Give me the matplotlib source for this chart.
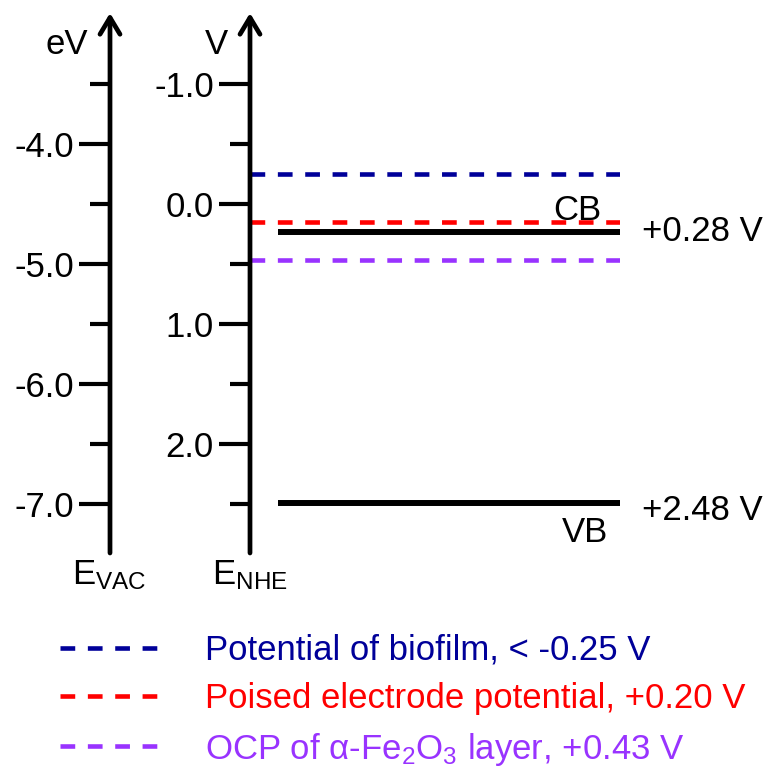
import matplotlib
matplotlib.use("Agg")
import matplotlib.pyplot as plt

plt.rcParams['font.family'] = ['Liberation Sans', 'DejaVu Sans']
plt.rcParams['mathtext.default'] = 'regular'
plt.rcParams['lines.scale_dashes'] = False

# ---- data (V vs NHE) ----
nhe_major = [-1.0, 0.0, 1.0, 2.0]
nhe_minor = [-0.5, 0.5, 1.5, 2.5]
nhe_labels = ["-1.0", "0.0", "1.0", "2.0"]
vac_major = [-4.0, -5.0, -6.0, -7.0]
vac_minor = [-3.5, -4.5, -5.5, -6.5]
vac_labels = ["-4.0", "-5.0", "-6.0", "-7.0"]
vac_offset = -4.5  # E_vac = offset - E_NHE

dash_names = ["Potential of biofilm, < -0.25 V",
              "Poised electrode potential, +0.20 V",
              "OCP of α-Fe$_2$O$_3$ layer, +0.43 V"]
dash_levels = [-0.25, 0.15, 0.47]
dash_colors = ["#000099", "#FF0000", "#9933FF"]

band_names = ["CB", "VB"]
band_levels = [0.23, 2.49]
band_values = ["+0.28 V", "+2.48 V"]

W, H = 781, 767
fig = plt.figure(figsize=(W / 100, H / 100), dpi=100)

y_top_px, y_bot_px = 13, 553
v_top = (y_top_px - 204) / 120.0
v_bot = (y_bot_px - 204) / 120.0

def fx(px):
    return px / W

ax_bottom = 1 - y_bot_px / H
ax_height = (y_bot_px - y_top_px) / H

ax = fig.add_axes([fx(250), ax_bottom, fx(620 - 250), ax_height])
ax2 = fig.add_axes([fx(110), ax_bottom, fx(10), ax_height])

FS = 25
LW_AX = 3.4

for a in (ax, ax2):
    for s in a.spines.values():
        s.set_visible(False)
    a.patch.set_visible(False)
    a.set_xticks([])
    a.tick_params(axis='y', which='major', length=22, width=3, pad=4,
                  labelsize=FS, direction='out')
    a.tick_params(axis='y', which='minor', length=14.4, width=3, direction='out')
    a.set_xlim(0, 1)
    a.annotate('', xy=(0, 1), xytext=(0, 0), xycoords='axes fraction',
               arrowprops=dict(arrowstyle='->, head_length=0.6, head_width=0.36',
                               lw=LW_AX, color='black', shrinkA=0, shrinkB=0,
                               mutation_scale=20))

ax.set_ylim(v_bot, v_top)
ax.set_yticks(nhe_major)
ax.set_yticklabels(nhe_labels)
ax.set_yticks(nhe_minor, minor=True)

ax2.set_ylim(vac_offset - v_bot, vac_offset - v_top)
ax2.set_yticks(vac_major)
ax2.set_yticklabels(vac_labels)
ax2.set_yticks(vac_minor, minor=True)

# dashed potential lines
handles = []
for lev, col, name in zip(dash_levels, dash_colors, dash_names):
    ln, = ax.plot([0, 1], [lev, lev], color=col, lw=3.3, linestyle=(0, (10.6, 9.1)),
                  solid_capstyle='butt', dash_capstyle='butt', label=name)
    handles.append(ln)

# band edges
x0 = (278 - 250) / (620 - 250)
for lev in band_levels:
    ax.plot([x0, 1], [lev, lev], color='black', lw=4.3, solid_capstyle='butt')

ax.text(0.951, band_levels[0] - 0.035, band_names[0], fontsize=FS, ha='right', va='bottom')
ax.text(0.968, band_levels[1] + 0.11, band_names[1], fontsize=FS, ha='right', va='top')
ax.text(1.06, band_levels[0], band_values[0], fontsize=FS, ha='left', va='center')
ax.text(1.06, band_levels[1] + 0.06, band_values[1], fontsize=FS, ha='left', va='center')

# axis labels
fig.text(fx(88), 1 - 44 / H, "eV", fontsize=FS, ha='right', va='center')
fig.text(fx(228), 1 - 44 / H, "V", fontsize=FS, ha='right', va='center')
fig.text(fx(72), 1 - 575 / H, "E$_{VAC}$", fontsize=FS, ha='left', va='center')
fig.text(fx(212), 1 - 575 / H, "E$_{NHE}$", fontsize=FS, ha='left', va='center')

leg = fig.legend(handles=handles, loc='upper left',
                 bbox_to_anchor=(fx(60), 1 - 634 / H), frameon=False,
                 fontsize=FS, handlelength=2.88, handletextpad=1.3,
                 labelspacing=0.44, borderpad=0, borderaxespad=0)
for t, c in zip(leg.get_texts(), dash_colors):
    t.set_color(c)

fig.savefig("out.png", dpi=100)
